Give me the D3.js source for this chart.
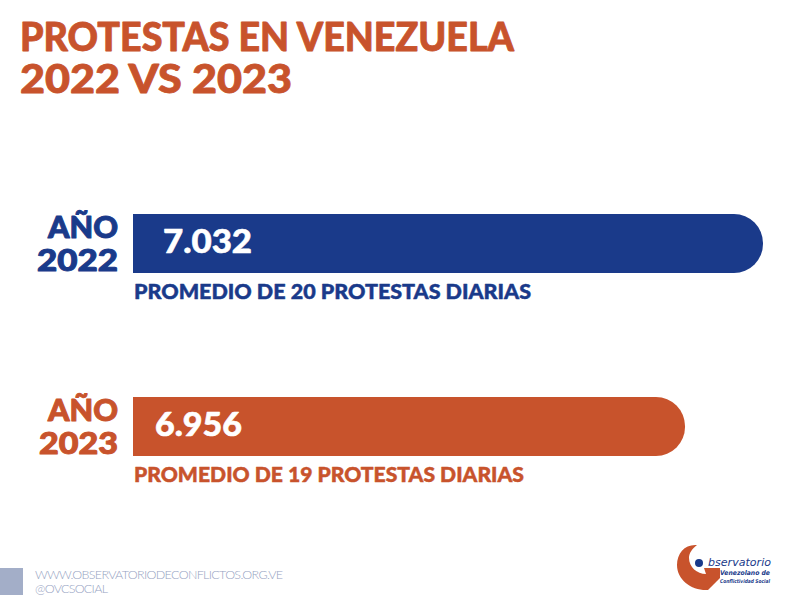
<!DOCTYPE html>
<html>
<head>
<meta charset="utf-8">
<script src="https://cdn.jsdelivr.net/npm/d3@7"></script>
<style>
  html, body { margin: 0; padding: 0; background: #fff; }
  svg { display: block; }
  text { font-family: Lato, sans-serif; }
</style>
</head>
<body>
<script>
const years = ['2022', '2023'];
const totals = [7032, 6956];
const totalLabels = ['7.032', '6.956'];
const notes = ['PROMEDIO DE 20 PROTESTAS DIARIAS', 'PROMEDIO DE 19 PROTESTAS DIARIAS'];
const titleLines = ['PROTESTAS EN VENEZUELA', '2022 VS 2023'];
const footerLines = ['WWW.OBSERVATORIODECONFLICTOS.ORG.VE', '@OVCSOCIAL'];

const width = 793;
const height = 613;
const blue = '#1a3a8a';
const orange = '#c8532c';

// Lato is narrower than the original typeface, so text is fitted to measured widths
const titleLen = [494, 272];
const valueX = [163, 155];
const valueLen = [89, 87];
const yearX = [37, 39];
const noteLen = [397, 390];
const footerLen = [248, 73];

const svg = d3.select('body').append('svg')
    .attr('width', width)
    .attr('height', height);

// the original bars do not start at zero, the domain is read off their lengths
const x = d3.scaleLinear().domain([6418, 7032]).range([133, 763]);
const y = d3.scaleOrdinal().domain(years).range([214, 397]);
const color = d3.scaleOrdinal().domain(years).range([blue, orange]);
const barHeight = 59;
const radius = 29;

// same colour stroke makes Lato as heavy as the original
function heavy(sel, w) {
  return sel.attr('stroke', function() { return d3.select(this).attr('fill'); })
      .attr('stroke-width', w)
      .attr('stroke-linejoin', 'round');
}

function fit(sel, len) {
  return sel.attr('textLength', len).attr('lengthAdjust', 'spacingAndGlyphs');
}

// title
svg.selectAll('.title').data(titleLines).join('text')
    .attr('class', 'title')
    .attr('x', 20)
    .attr('y', (d, i) => 51 + i * 42)
    .attr('fill', orange)
    .attr('font-size', 39)
    .attr('font-weight', 900)
    .text(d => d)
    .call(fit, (d, i) => titleLen[i])
    .call(heavy, 0.8);

// bars, square on the left and round on the right
const row = svg.selectAll('.row').data(years).join('g').attr('class', 'row');

row.append('path')
    .attr('fill', d => color(d))
    .attr('d', (d, i) => {
      const x0 = x.range()[0], x1 = x(totals[i]), y0 = y(d);
      return `M${x0},${y0}H${x1 - radius}A${radius},${radius} 0 0 1 ${x1},${y0 + radius}`
        + `V${y0 + barHeight - radius}A${radius},${radius} 0 0 1 ${x1 - radius},${y0 + barHeight}H${x0}Z`;
    });

row.append('text')
    .attr('x', (d, i) => valueX[i])
    .attr('y', d => y(d) + 39)
    .attr('fill', '#fff')
    .attr('font-size', 33)
    .attr('font-weight', 900)
    .text((d, i) => totalLabels[i])
    .call(fit, (d, i) => valueLen[i])
    .call(heavy, 0.6);

row.append('text')
    .attr('x', 48)
    .attr('y', d => y(d) + 24)
    .attr('fill', d => color(d))
    .attr('font-size', 30.5)
    .attr('font-weight', 900)
    .text('AÑO')
    .call(fit, 70)
    .call(heavy, 1);

row.append('text')
    .attr('x', (d, i) => yearX[i])
    .attr('y', d => y(d) + 57)
    .attr('fill', d => color(d))
    .attr('font-size', 30.5)
    .attr('font-weight', 900)
    .text(d => d)
    .call(fit, (d, i) => 118 - yearX[i])
    .call(heavy, 1);

row.append('text')
    .attr('x', 134)
    .attr('y', d => y(d) + 84.5)
    .attr('fill', d => color(d))
    .attr('font-size', 21.5)
    .attr('font-weight', 900)
    .text((d, i) => notes[i])
    .call(fit, (d, i) => noteLen[i])
    .call(heavy, 0.5);

// footer
svg.append('rect')
    .attr('x', 0).attr('y', 568)
    .attr('width', 23).attr('height', 27)
    .attr('fill', '#a3aec8');

svg.selectAll('.footer').data(footerLines).join('text')
    .attr('class', 'footer')
    .attr('x', 35)
    .attr('y', (d, i) => 579 + i * 14)
    .attr('fill', '#95a2c2')
    .attr('font-size', 12.5)
    .attr('font-weight', 300)
    .text(d => d)
    .attr('textLength', (d, i) => footerLen[i])
    .attr('lengthAdjust', 'spacing');

// logo
const logo = svg.append('g');
logo.append('path')
    .attr('fill', orange)
    .attr('d', 'M697,545C685,544 677,553 677,565C677,580 692,591 708,590L720,578L720,568L704,568L706,574C697,574 689,567 689,558C689,553 692,549 697,545Z');
logo.append('circle')
    .attr('cx', 699).attr('cy', 563).attr('r', 4)
    .attr('fill', blue);

const logoText = [
  {text: 'bservatorio', x: 708, y: 566, size: 11, len: 63, weight: 400},
  {text: 'Venezolano de', x: 720, y: 575, size: 6.5, len: 50, weight: 700},
  {text: 'Conflictividad Social', x: 720, y: 583, size: 5.2, len: 50, weight: 700}
];
logo.selectAll('text').data(logoText).join('text')
    .attr('x', d => d.x)
    .attr('y', d => d.y)
    .attr('fill', blue)
    .attr('font-size', d => d.size)
    .attr('font-weight', d => d.weight)
    .attr('font-style', 'italic')
    .style('font-family', '"DejaVu Sans", sans-serif')
    .text(d => d.text)
    .call(fit, d => d.len);
</script>
</body>
</html>
